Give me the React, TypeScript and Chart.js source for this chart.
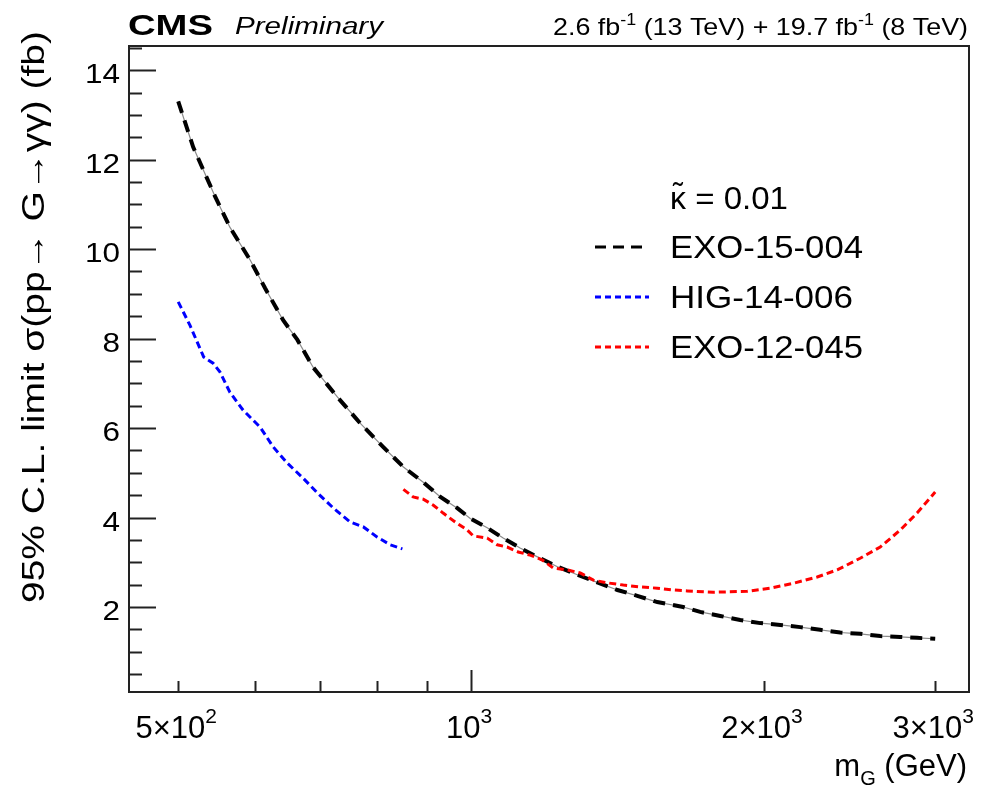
import React, { useEffect, useRef } from "react";
import { Chart, registerables } from "chart.js";

Chart.register(...registerables);

// ---------------- data ----------------
const exo15Mass = [500, 518, 546, 565, 593, 614, 641, 663, 688, 729, 769, 812, 852, 893, 930, 968, 998, 1039, 1079, 1123, 1170, 1227, 1286, 1348, 1414, 1482, 1554, 1652, 1720, 1804, 1891, 1983, 2079, 2180, 2285, 2396, 2512, 2634, 2762, 2874, 3000];
const exo15Limit = [13.3, 12.28, 11.16, 10.49, 9.75, 9.13, 8.41, 7.97, 7.36, 6.69, 6.11, 5.58, 5.13, 4.79, 4.46, 4.21, 3.98, 3.77, 3.54, 3.32, 3.12, 2.9, 2.72, 2.55, 2.38, 2.25, 2.11, 2.0, 1.89, 1.8, 1.71, 1.64, 1.6, 1.55, 1.49, 1.43, 1.4, 1.35, 1.33, 1.31, 1.29];

const hig14Mass = [500, 514, 531, 543, 552, 565, 583, 607, 626, 647, 672, 695, 722, 751, 775, 801, 826, 850];
const hig14Limit = [8.82, 8.3, 7.59, 7.45, 7.25, 6.8, 6.4, 6.02, 5.58, 5.22, 4.88, 4.55, 4.21, 3.9, 3.79, 3.56, 3.39, 3.3];

const exo12Mass = [852, 872, 893, 914, 936, 963, 991, 1005, 1039, 1064, 1089, 1118, 1150, 1184, 1215, 1256, 1295, 1336, 1380, 1434, 1492, 1554, 1614, 1668, 1774, 1922, 2030, 2144, 2269, 2379, 2512, 2634, 2762, 2874, 3000];
const exo12Limit = [4.63, 4.46, 4.41, 4.28, 4.1, 3.9, 3.72, 3.59, 3.54, 3.39, 3.34, 3.23, 3.16, 3.05, 2.87, 2.83, 2.76, 2.6, 2.54, 2.49, 2.45, 2.42, 2.38, 2.36, 2.33, 2.35, 2.42, 2.53, 2.67, 2.83, 3.09, 3.34, 3.72, 4.1, 4.57];

const seriesLabels = ["EXO-15-004", "HIG-14-006", "EXO-12-045"];
const legendSymbol = "\u03BA";
const legendSymbolAccent = "\u02DC";
const legendHeaderRest = " = 0.01";

const yTickValues = [2, 4, 6, 8, 10, 12, 14];
const yMinorStep = 0.5;
const xTickValues = [500, 1000, 2000, 3000];
const xTickMantissas = ["5\u00D710", "10", "2\u00D710", "3\u00D710"];
const xTickExponents = ["2", "3", "3", "3"];
const xMinorTicks = [500, 600, 700, 800, 900, 2000, 3000];
const xMajorTicks = [1000];

const xRange = [445, 3250];
const yRange = [0.1, 14.54];

const yTitle = "95% C.L. limit \u03C3(pp\u2192 G\u2192\u03B3\u03B3) (fb)";
const xTitleMain = "m";
const xTitleSub = "G";
const xTitleUnit = " (GeV)";
const cmsLabel = "CMS";
const prelimLabel = "Preliminary";
const lumiParts = ["2.6 fb", "-1", " (13 TeV) + 19.7 fb", "-1", " (8 TeV)"];

// ---------------- drawing helpers ----------------
const FAMILY = "'Liberation Sans', Arial, Helvetica, sans-serif";

type Part = { t: string; size: number; dy?: number; style?: string };

function drawRich(
  ctx: CanvasRenderingContext2D,
  parts: Part[],
  x: number,
  y: number,
  align: "left" | "right" | "center",
  width?: number,
  color = "#000"
) {
  const widths = parts.map((p) => {
    ctx.font = `${p.style || ""} ${p.size}px ${FAMILY}`;
    return ctx.measureText(p.t).width;
  });
  const natural = widths.reduce((a, b) => a + b, 0);
  const sx = width ? width / natural : 1;
  const total = natural * sx;
  let cx = align === "left" ? x : align === "right" ? x - total : x - total / 2;
  ctx.save();
  ctx.fillStyle = color;
  ctx.textAlign = "left";
  ctx.textBaseline = "alphabetic";
  parts.forEach((p, i) => {
    ctx.font = `${p.style || ""} ${p.size}px ${FAMILY}`;
    ctx.save();
    ctx.translate(cx, y + (p.dy || 0));
    ctx.scale(sx, 1);
    ctx.fillText(p.t, 0, 0);
    ctx.restore();
    cx += widths[i] * sx;
  });
  ctx.restore();
  return total;
}

function legendLine(ctx: CanvasRenderingContext2D, x0: number, x1: number, y: number, color: string, dash: number[], w: number) {
  ctx.save();
  ctx.strokeStyle = color;
  ctx.lineWidth = w;
  ctx.setLineDash(dash);
  ctx.beginPath();
  ctx.moveTo(x0, y);
  ctx.lineTo(x1, y);
  ctx.stroke();
  ctx.restore();
}

const decorPlugin = {
  id: "cmsDecor",
  afterDraw(chart: any) {
    const ctx: CanvasRenderingContext2D = chart.ctx;
    const { left, right, top, bottom } = chart.chartArea;
    const xs = chart.scales.x;
    const ys = chart.scales.y;

    ctx.save();
    // frame
    ctx.strokeStyle = "#222";
    ctx.lineWidth = 2;
    ctx.strokeRect(left, top, right - left, bottom - top);

    // y ticks
    const nMinor = Math.floor(yRange[1] / yMinorStep);
    for (let k = 1; k <= nMinor; k++) {
      const v = k * yMinorStep;
      if (v < yRange[0]) continue;
      const py = Math.round(ys.getPixelForValue(v)) + 0.5;
      const major = yTickValues.includes(v);
      ctx.beginPath();
      ctx.moveTo(left, py);
      ctx.lineTo(left + (major ? 27 : 13), py);
      ctx.stroke();
    }
    // x ticks
    xMinorTicks.forEach((v) => {
      const px = Math.round(xs.getPixelForValue(v)) + 0.5;
      ctx.beginPath();
      ctx.moveTo(px, bottom);
      ctx.lineTo(px, bottom - 11);
      ctx.stroke();
    });
    xMajorTicks.forEach((v) => {
      const px = Math.round(xs.getPixelForValue(v)) + 0.5;
      ctx.beginPath();
      ctx.moveTo(px, bottom);
      ctx.lineTo(px, bottom - 22);
      ctx.stroke();
    });
    ctx.restore();

    // y tick labels
    yTickValues.forEach((v) => {
      const py = ys.getPixelForValue(v);
      drawRich(ctx, [{ t: String(v), size: 28 }], left - 9, py + 13, "right", String(v).length * 17.5);
    });

    // x tick labels
    xTickValues.forEach((v, i) => {
      const px = xs.getPixelForValue(v);
      drawRich(
        ctx,
        [
          { t: xTickMantissas[i], size: 31 },
          { t: xTickExponents[i], size: 21, dy: -15 },
        ],
        px - 2,
        738,
        "center"
      );
    });

    // x title
    drawRich(
      ctx,
      [
        { t: xTitleMain, size: 31 },
        { t: xTitleSub, size: 20, dy: 9 },
        { t: xTitleUnit, size: 31 },
      ],
      967,
      776,
      "right"
    );

    // y title (rotated)
    ctx.save();
    ctx.translate(44, 603);
    ctx.rotate(-Math.PI / 2);
    drawRich(ctx, [{ t: yTitle, size: 32 }], 0, 0, "left", 572);
    ctx.restore();

    // header
    drawRich(ctx, [{ t: cmsLabel, size: 30, style: "bold" }], 128, 35, "left", 85);
    drawRich(ctx, [{ t: prelimLabel, size: 23, style: "italic" }], 235, 34, "left", 148);
    drawRich(
      ctx,
      lumiParts.map((t, i) => (i % 2 === 1 ? { t, size: 16, dy: -10 } : { t, size: 24 })),
      968,
      35,
      "right",
      415
    );

    // legend header: kappa with tilde accent
    const kw = drawRich(ctx, [{ t: legendSymbol, size: 32 }], 670, 209, "left");
    drawRich(ctx, [{ t: legendSymbolAccent, size: 30 }], 670 + kw / 2, 203, "center");
    drawRich(ctx, [{ t: legendHeaderRest, size: 32 }], 670 + kw, 209, "left", 102);

    const legendWidths = [193, 183, 193];
    const legendBase = [258, 308, 358];
    const legendColors = ["#000", "#0000ff", "#ff0000"];
    const legendDash = [[11, 7], [6, 4], [6, 4]];
    seriesLabels.forEach((lab, i) => {
      legendLine(ctx, 595, 649, legendBase[i] - 11, legendColors[i], legendDash[i], 3);
      drawRich(ctx, [{ t: lab, size: 32 }], 670, legendBase[i], "left", legendWidths[i]);
    });
  },
};

function pts(xs: number[], ys: number[]) {
  return xs.map((x, i) => ({ x, y: ys[i] }));
}

export default function App() {
  const ref = useRef<HTMLCanvasElement>(null);
  useEffect(() => {
    if (!ref.current) return;
    const chart = new Chart(ref.current, {
      type: "line",
      data: {
        datasets: [
          {
            label: seriesLabels[0] + " guide",
            data: pts(exo15Mass, exo15Limit),
            borderColor: "rgba(60,60,60,0.6)",
            borderWidth: 1.2,
            pointRadius: 0,
            order: 10,
          },
          {
            label: seriesLabels[0],
            data: pts(exo15Mass, exo15Limit),
            borderColor: "#000",
            borderWidth: 4,
            borderDash: [12, 8],
            pointRadius: 0,
            order: 3,
          },
          {
            label: seriesLabels[1],
            data: pts(hig14Mass, hig14Limit),
            borderColor: "#0000ff",
            borderWidth: 3,
            borderDash: [7, 4],
            pointRadius: 0,
            order: 2,
          },
          {
            label: seriesLabels[2],
            data: pts(exo12Mass, exo12Limit),
            borderColor: "#ff0000",
            borderWidth: 3,
            borderDash: [7, 4],
            pointRadius: 0,
            order: 1,
          },
        ],
      },
      options: {
        animation: false,
        responsive: false,
        maintainAspectRatio: false,
        layout: { padding: { left: 0, right: 15, top: 46, bottom: 0 } },
        plugins: { legend: { display: false }, tooltip: { enabled: false } },
        scales: {
          x: {
            type: "logarithmic",
            min: xRange[0],
            max: xRange[1],
            grid: { display: false, drawTicks: false },
            border: { display: false },
            ticks: { display: false },
            afterFit: (s: any) => {
              s.height = 96;
            },
          },
          y: {
            type: "linear",
            min: yRange[0],
            max: yRange[1],
            grid: { display: false, drawTicks: false },
            border: { display: false },
            ticks: { display: false },
            afterFit: (s: any) => {
              s.width = 129;
            },
          },
        },
      } as any,
      plugins: [decorPlugin],
    });
    return () => chart.destroy();
  }, []);
  return (
    <div style={{ position: "absolute", left: 0, top: 0, width: 984, height: 788, background: "#fff" }}>
      <canvas ref={ref} width={984} height={788} style={{ display: "block", width: 984, height: 788 }} />
    </div>
  );
}
